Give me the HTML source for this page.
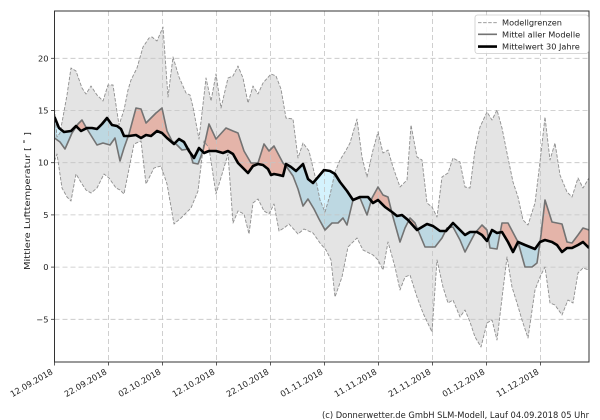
<!DOCTYPE html>
<html><head><meta charset="utf-8"><style>
html,body{margin:0;padding:0;background:#fff;}
svg{display:block;font-family:"DejaVu Sans","Liberation Sans",sans-serif;}
</style></head><body>
<svg width="600" height="420" viewBox="0 0 600 420" xmlns="http://www.w3.org/2000/svg">
<defs>
<clipPath id="plot"><rect x="54.5" y="11" width="534.5" height="351"/></clipPath>
<clipPath id="aboveC"><polygon points="54.5,117 59,128 64,132 71,131 76,126 81,131 87,128 92,128 97,129 102,124 107,118 112,125 117,126 121,129 124,136 129,136 136,135 141,138 146,135 151,136 157,131 162,133 167,138 174,144 179,139 184,142 189,151 194,158 199,148 204,153 209,151 216,151 223,153 228,151 233,154 238,163 243,168 248,173 253,166 258,164 263,165 268,169 271,175 274,174 279,175 283,176 286,164 291,167 296,171 303,164 308,179 313,183 319,176 324,170 330,171 335,174 340,182 347,191 353,200 360,197 368,197 373,203 378,200 385,207 392,212 397,216 402,215 408,220 417,230 427,224 433,226 440,231 446,231 453,223 460,230 465,235 470,232 477,232 482,235 487,241 492,230 497,233 502,232 508,242 513,252 518,242 525,245 535,249 540,242 545,240 552,242 557,245 562,252 567,248 572,248 578,245 583,242 589,248 600,248 600,0 0,0 0,117"/></clipPath>
<clipPath id="belowC"><polygon points="54.5,117 59,128 64,132 71,131 76,126 81,131 87,128 92,128 97,129 102,124 107,118 112,125 117,126 121,129 124,136 129,136 136,135 141,138 146,135 151,136 157,131 162,133 167,138 174,144 179,139 184,142 189,151 194,158 199,148 204,153 209,151 216,151 223,153 228,151 233,154 238,163 243,168 248,173 253,166 258,164 263,165 268,169 271,175 274,174 279,175 283,176 286,164 291,167 296,171 303,164 308,179 313,183 319,176 324,170 330,171 335,174 340,182 347,191 353,200 360,197 368,197 373,203 378,200 385,207 392,212 397,216 402,215 408,220 417,230 427,224 433,226 440,231 446,231 453,223 460,230 465,235 470,232 477,232 482,235 487,241 492,230 497,233 502,232 508,242 513,252 518,242 525,245 535,249 540,242 545,240 552,242 557,245 562,252 567,248 572,248 578,245 583,242 589,248 600,248 600,420 0,420 0,117"/></clipPath>
</defs>

<g clip-path="url(#plot)">
<!-- band between model mean and climatology -->
<g id="mc">
<polygon id="mcpoly" fill="#ffcabd" clip-path="url(#aboveC)" points="54.5,138 60,142 65,149 72,133 78,124 82,120 87,129 92,137 97,145 103,143 110,145 115,138 120,161 124,148 129,134 136,108 141,109 146,123 151,118 156,113 162,108 167,131 172,141 177,145 182,150 189,149 193,163 198,164 203,151 209,124 216,139 226,128 233,131 238,133 244,151 251,163 258,163 264,144 269,151 274,146 283,163 286,166 293,176 298,189 303,206 308,199 314,209 319,219 325,230 332,223 338,223 343,218 347,225 353,200 360,198 367,215 372,198 378,187 383,195 388,197 393,217 400,242 405,228 410,218 415,223 420,235 425,247 435,247 442,238 447,228 453,227 460,240 465,252 475,233 482,225 487,230 490,248 497,249 502,223 508,223 518,242 525,267 532,267 537,263 541,235 545,200 552,222 557,223 562,224 567,242 572,243 578,235 583,228 589,230 589,248 583,242 578,245 572,248 567,248 562,252 557,245 552,242 545,240 540,242 535,249 525,245 518,242 513,252 508,242 502,232 497,233 492,230 487,241 482,235 477,232 470,232 465,235 460,230 453,223 446,231 440,231 433,226 427,224 417,230 408,220 402,215 397,216 392,212 385,207 378,200 373,203 368,197 360,197 353,200 347,191 340,182 335,174 330,171 324,170 319,176 313,183 308,179 303,164 296,171 291,167 286,164 283,176 279,175 274,174 271,175 268,169 263,165 258,164 253,166 248,173 243,168 238,163 233,154 228,151 223,153 216,151 209,151 204,153 199,148 194,158 189,151 184,142 179,139 174,144 167,138 162,133 157,131 151,136 146,135 141,138 136,135 129,136 124,136 121,129 117,126 112,125 107,118 102,124 97,129 92,128 87,128 81,131 76,126 71,131 64,132 59,128 54.5,117"/>
</g>
<polygon fill="#d4f2fd" clip-path="url(#belowC)" points="54.5,138 60,142 65,149 72,133 78,124 82,120 87,129 92,137 97,145 103,143 110,145 115,138 120,161 124,148 129,134 136,108 141,109 146,123 151,118 156,113 162,108 167,131 172,141 177,145 182,150 189,149 193,163 198,164 203,151 209,124 216,139 226,128 233,131 238,133 244,151 251,163 258,163 264,144 269,151 274,146 283,163 286,166 293,176 298,189 303,206 308,199 314,209 319,219 325,230 332,223 338,223 343,218 347,225 353,200 360,198 367,215 372,198 378,187 383,195 388,197 393,217 400,242 405,228 410,218 415,223 420,235 425,247 435,247 442,238 447,228 453,227 460,240 465,252 475,233 482,225 487,230 490,248 497,249 502,223 508,223 518,242 525,267 532,267 537,263 541,235 545,200 552,222 557,223 562,224 567,242 572,243 578,235 583,228 589,230 589,248 583,242 578,245 572,248 567,248 562,252 557,245 552,242 545,240 540,242 535,249 525,245 518,242 513,252 508,242 502,232 497,233 492,230 487,241 482,235 477,232 470,232 465,235 460,230 453,223 446,231 440,231 433,226 427,224 417,230 408,220 402,215 397,216 392,212 385,207 378,200 373,203 368,197 360,197 353,200 347,191 340,182 335,174 330,171 324,170 319,176 313,183 308,179 303,164 296,171 291,167 286,164 283,176 279,175 274,174 271,175 268,169 263,165 258,164 253,166 248,173 243,168 238,163 233,154 228,151 223,153 216,151 209,151 204,153 199,148 194,158 189,151 184,142 179,139 174,144 167,138 162,133 157,131 151,136 146,135 141,138 136,135 129,136 124,136 121,129 117,126 112,125 107,118 102,124 97,129 92,128 87,128 81,131 76,126 71,131 64,132 59,128 54.5,117"/>

<!-- model range band -->
<polygon fill="#e4e4e4" style="mix-blend-mode:multiply" points="54.5,109 57,137 60,133 63,117 67,95 71,68 76,71 82,88 86,94 91,86 97,95 103,101 108,85 113,85 119,125 124,110 128,90 131,80 137,68 143,47 149,38 152,37 157,41 163,27 168,97 173,57 179,77 186,93 190,95 193,107 199,139 206,78 211,101 216,74 221,108 228,78 233,76 238,66 243,78 248,103 253,86 258,94 263,83 271,74 276,76 281,89 286,118 293,119 298,158 303,143 309,151 316,180 320,200 325,212 330,195 335,172 340,160 345,152 350,143 357,119 362,157 367,177 373,150 378,132 383,153 388,150 393,167 400,187 407,180 411,125 417,157 422,160 427,203 432,207 437,217 442,177 448,173 453,158 460,162 465,187 470,188 475,150 480,127 487,112 492,120 497,110 502,128 507,153 513,182 518,197 523,220 528,225 535,203 540,162 545,117 550,160 555,143 560,175 567,192 572,197 578,178 583,188 589,178 589,270 583,268 578,273 573,303 568,300 562,315 555,305 550,303 545,267 540,277 535,290 528,338 522,320 517,303 512,287 507,257 503,290 497,340 492,320 487,323 481,347 475,337 470,322 465,310 460,317 453,300 448,303 443,287 437,260 432,332 423,313 417,297 410,275 405,277 400,290 395,267 388,242 383,270 378,260 373,255 363,250 357,238 348,247 342,277 335,297 331,260 326,250 320,243 313,233 304,229 298,234 289,224 284,228 279,231 274,204 269,214 264,211 258,199 253,203 249,234 244,214 238,211 233,223 228,154 223,171 216,194 209,148 204,141 198,191 191,208 186,213 181,218 174,224 167,184 161,166 154,168 146,184 141,141 134,144 124,194 120,190 116,188 109,178 104,174 97,188 91,193 86,190 82,184 76,174 71,201 67,197 62,188 57,154 54.5,161"/>

<!-- grid -->
<g stroke="#c4c4c4" stroke-width="0.8" stroke-dasharray="5,3" fill="none">
<line x1="54.5" y1="58.3" x2="589" y2="58.3"/>
<line x1="54.5" y1="110.5" x2="589" y2="110.5"/>
<line x1="54.5" y1="162.7" x2="589" y2="162.7"/>
<line x1="54.5" y1="214.9" x2="589" y2="214.9"/>
<line x1="54.5" y1="267.1" x2="589" y2="267.1"/>
<line x1="54.5" y1="319.3" x2="589" y2="319.3"/>
<line x1="108.5" y1="11" x2="108.5" y2="362"/>
<line x1="162.5" y1="11" x2="162.5" y2="362"/>
<line x1="216.5" y1="11" x2="216.5" y2="362"/>
<line x1="270.5" y1="11" x2="270.5" y2="362"/>
<line x1="324.5" y1="11" x2="324.5" y2="362"/>
<line x1="378.5" y1="11" x2="378.5" y2="362"/>
<line x1="432.5" y1="11" x2="432.5" y2="362"/>
<line x1="486.5" y1="11" x2="486.5" y2="362"/>
<line x1="540.5" y1="11" x2="540.5" y2="362"/>
</g>

<!-- model bounds -->
<g fill="none" stroke="#8f8f8f" stroke-width="0.9" stroke-dasharray="3.5,1.6" stroke-linejoin="round">
<polyline points="54.5,109 57,137 60,133 63,117 67,95 71,68 76,71 82,88 86,94 91,86 97,95 103,101 108,85 113,85 119,125 124,110 128,90 131,80 137,68 143,47 149,38 152,37 157,41 163,27 168,97 173,57 179,77 186,93 190,95 193,107 199,139 206,78 211,101 216,74 221,108 228,78 233,76 238,66 243,78 248,103 253,86 258,94 263,83 271,74 276,76 281,89 286,118 293,119 298,158 303,143 309,151 316,180 320,200 325,212 330,195 335,172 340,160 345,152 350,143 357,119 362,157 367,177 373,150 378,132 383,153 388,150 393,167 400,187 407,180 411,125 417,157 422,160 427,203 432,207 437,217 442,177 448,173 453,158 460,162 465,187 470,188 475,150 480,127 487,112 492,120 497,110 502,128 507,153 513,182 518,197 523,220 528,225 535,203 540,162 545,117 550,160 555,143 560,175 567,192 572,197 578,178 583,188 589,178"/>
<polyline points="54.5,161 57,154 62,188 67,197 71,201 76,174 82,184 86,190 91,193 97,188 104,174 109,178 116,188 120,190 124,194 134,144 141,141 146,184 154,168 161,166 167,184 174,224 181,218 186,213 191,208 198,191 204,141 209,148 216,194 223,171 228,154 233,223 238,211 244,214 249,234 253,203 258,199 264,211 269,214 274,204 279,231 284,228 289,224 298,234 304,229 313,233 320,243 326,250 331,260 335,297 342,277 348,247 357,238 363,250 373,255 378,260 383,270 388,242 395,267 400,290 405,277 410,275 417,297 423,313 432,332 437,260 443,287 448,303 453,300 460,317 465,310 470,322 475,337 481,347 487,323 492,320 497,340 503,290 507,257 512,287 517,303 522,320 528,338 535,290 540,277 545,267 550,303 555,305 562,315 568,300 573,303 578,273 583,268 589,270"/>
</g>

<!-- model mean -->
<polyline fill="none" stroke="#737373" stroke-width="1.6" stroke-linejoin="round" points="54.5,138 60,142 65,149 72,133 78,124 82,120 87,129 92,137 97,145 103,143 110,145 115,138 120,161 124,148 129,134 136,108 141,109 146,123 151,118 156,113 162,108 167,131 172,141 177,145 182,150 189,149 193,163 198,164 203,151 209,124 216,139 226,128 233,131 238,133 244,151 251,163 258,163 264,144 269,151 274,146 283,163 286,166 293,176 298,189 303,206 308,199 314,209 319,219 325,230 332,223 338,223 343,218 347,225 353,200 360,198 367,215 372,198 378,187 383,195 388,197 393,217 400,242 405,228 410,218 415,223 420,235 425,247 435,247 442,238 447,228 453,227 460,240 465,252 475,233 482,225 487,230 490,248 497,249 502,223 508,223 518,242 525,267 532,267 537,263 541,235 545,200 552,222 557,223 562,224 567,242 572,243 578,235 583,228 589,230"/>

<!-- 30-year mean -->
<polyline fill="none" stroke="#000" stroke-width="2.6" stroke-linejoin="round" points="54.5,117 59,128 64,132 71,131 76,126 81,131 87,128 92,128 97,129 102,124 107,118 112,125 117,126 121,129 124,136 129,136 136,135 141,138 146,135 151,136 157,131 162,133 167,138 174,144 179,139 184,142 189,151 194,158 199,148 204,153 209,151 216,151 223,153 228,151 233,154 238,163 243,168 248,173 253,166 258,164 263,165 268,169 271,175 274,174 279,175 283,176 286,164 291,167 296,171 303,164 308,179 313,183 319,176 324,170 330,171 335,174 340,182 347,191 353,200 360,197 368,197 373,203 378,200 385,207 392,212 397,216 402,215 408,220 417,230 427,224 433,226 440,231 446,231 453,223 460,230 465,235 470,232 477,232 482,235 487,241 492,230 497,233 502,232 508,242 513,252 518,242 525,245 535,249 540,242 545,240 552,242 557,245 562,252 567,248 572,248 578,245 583,242 589,248"/>
</g>

<!-- spines -->
<rect x="54.5" y="11" width="534.5" height="351" fill="none" stroke="#333" stroke-width="1"/>

<!-- ticks -->
<g stroke="#333" stroke-width="0.8">
<line x1="51" y1="58.3" x2="54.5" y2="58.3"/>
<line x1="51" y1="110.5" x2="54.5" y2="110.5"/>
<line x1="51" y1="162.7" x2="54.5" y2="162.7"/>
<line x1="51" y1="214.9" x2="54.5" y2="214.9"/>
<line x1="51" y1="267.1" x2="54.5" y2="267.1"/>
<line x1="51" y1="319.3" x2="54.5" y2="319.3"/>
<line x1="54.5" y1="362" x2="54.5" y2="365.5"/>
<line x1="108.5" y1="362" x2="108.5" y2="365.5"/>
<line x1="162.5" y1="362" x2="162.5" y2="365.5"/>
<line x1="216.5" y1="362" x2="216.5" y2="365.5"/>
<line x1="270.5" y1="362" x2="270.5" y2="365.5"/>
<line x1="324.5" y1="362" x2="324.5" y2="365.5"/>
<line x1="378.5" y1="362" x2="378.5" y2="365.5"/>
<line x1="432.5" y1="362" x2="432.5" y2="365.5"/>
<line x1="486.5" y1="362" x2="486.5" y2="365.5"/>
<line x1="540.5" y1="362" x2="540.5" y2="365.5"/>
</g>

<!-- y tick labels -->
<g font-size="8.3" fill="#222" text-anchor="end">
<text x="48.5" y="61.3">20</text>
<text x="48.5" y="113.5">15</text>
<text x="48.5" y="165.7">10</text>
<text x="48.5" y="217.9">5</text>
<text x="48.5" y="270.1">0</text>
<text x="48.5" y="322.3">−5</text>
</g>

<!-- x tick labels -->
<g font-size="8.3" fill="#222" text-anchor="end">
<text transform="translate(53.5,373.5) rotate(-30)">12.09.2018</text>
<text transform="translate(107.5,373.5) rotate(-30)">22.09.2018</text>
<text transform="translate(161.5,373.5) rotate(-30)">02.10.2018</text>
<text transform="translate(215.5,373.5) rotate(-30)">12.10.2018</text>
<text transform="translate(269.5,373.5) rotate(-30)">22.10.2018</text>
<text transform="translate(323.5,373.5) rotate(-30)">01.11.2018</text>
<text transform="translate(377.5,373.5) rotate(-30)">11.11.2018</text>
<text transform="translate(431.5,373.5) rotate(-30)">21.11.2018</text>
<text transform="translate(485.5,373.5) rotate(-30)">01.12.2018</text>
<text transform="translate(539.5,373.5) rotate(-30)">11.12.2018</text>
</g>

<!-- y label -->
<text transform="translate(30,201) rotate(-90)" font-size="8.3" fill="#222" text-anchor="middle" textLength="138" lengthAdjust="spacingAndGlyphs">Mittlere Lufttemperatur [ ˚ ]</text>

<!-- legend -->
<rect x="475" y="15" width="113.5" height="38.5" rx="2.5" fill="#fff" fill-opacity="0.85" stroke="#cccccc" stroke-width="0.8"/>
<line x1="478" y1="22.7" x2="497" y2="22.7" stroke="#8f8f8f" stroke-width="0.9" stroke-dasharray="3.5,1.6"/>
<line x1="478" y1="34.3" x2="497" y2="34.3" stroke="#737373" stroke-width="1.6"/>
<line x1="478" y1="46.6" x2="497" y2="46.6" stroke="#000" stroke-width="2.6"/>
<g font-size="8.2" fill="#222">
<text x="502" y="25.7">Modellgrenzen</text>
<text x="502" y="37.3">Mittel aller Modelle</text>
<text x="502" y="49.6">Mittelwert 30 Jahre</text>
</g>

<!-- footer -->
<text x="322" y="418" font-size="8.5" fill="#222" textLength="267" lengthAdjust="spacingAndGlyphs">(c) Donnerwetter.de GmbH SLM-Modell, Lauf 04.09.2018 05 Uhr</text>
</svg>
</body></html>
